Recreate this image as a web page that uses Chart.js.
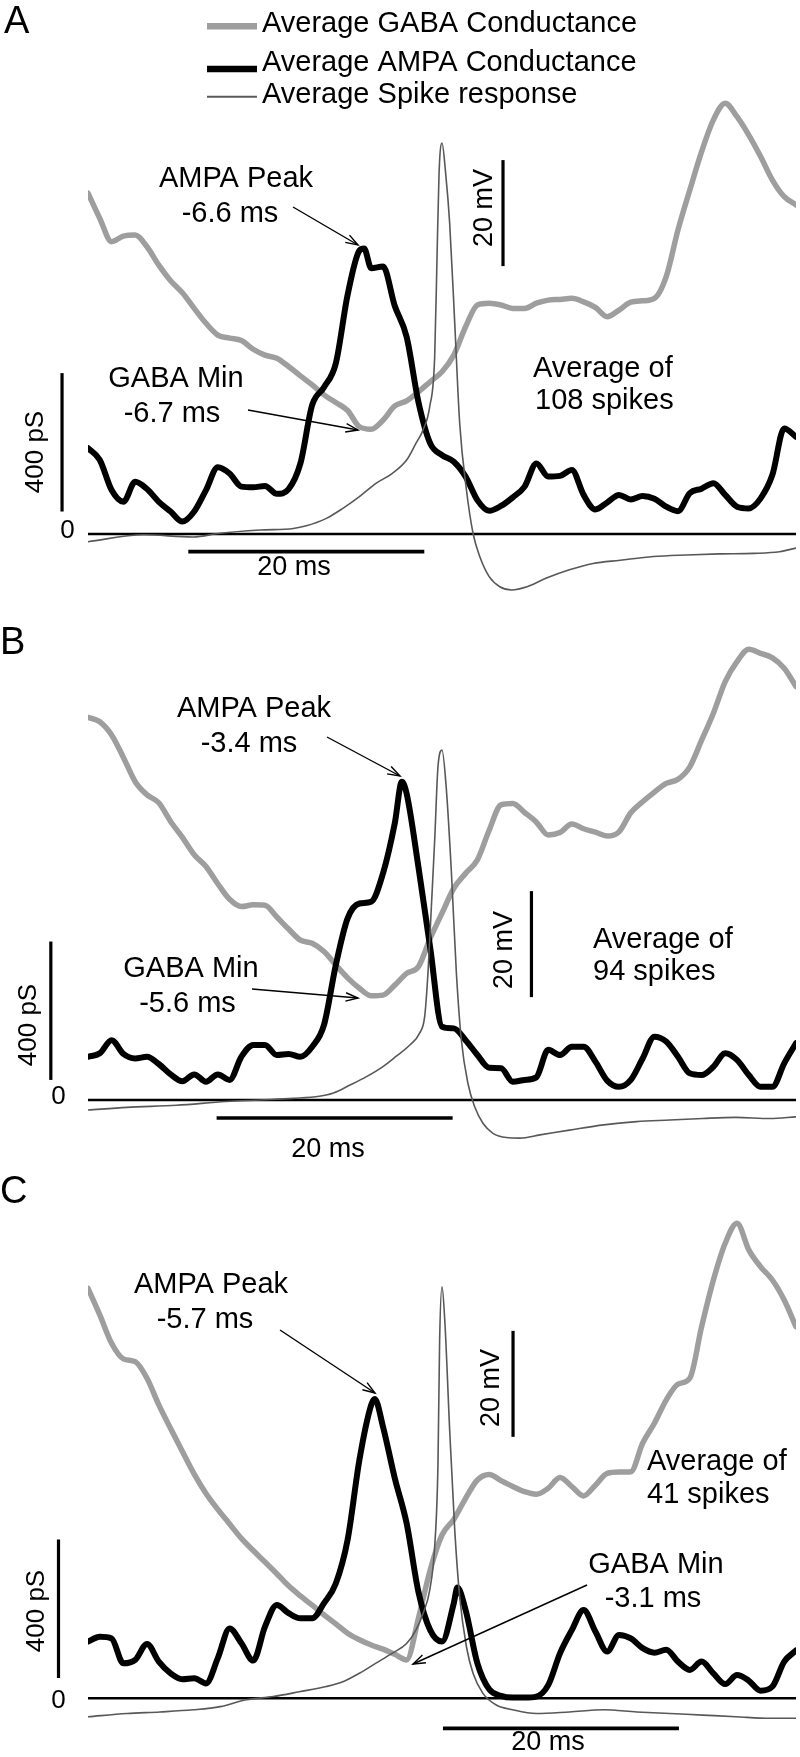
<!DOCTYPE html>
<html>
<head>
<meta charset="utf-8">
<title>Average GABA / AMPA conductance around spikes</title>
<script src="https://cdn.jsdelivr.net/npm/chart.js@4.4.1/dist/chart.umd.min.js"></script>
<style>
  html, body { margin: 0; padding: 0; background: #fff; }
  #wrap { position: relative; width: 800px; height: 1757px; }
</style>
</head>
<body>
<div id="wrap"><canvas id="traces" width="800" height="1757"></canvas></div>
<script>
// time relative to spike peak (ms), 1 ms grid for the conductance traces
const timeMs = [-30, -29, -28, -27, -26, -25, -24, -23, -22, -21, -20, -19, -18, -17, -16, -15, -14, -13, -12, -11,
  -10, -9, -8, -7, -6, -5, -4, -3, -2, -1, 0, 1, 2, 3, 4, 5, 6, 7, 8, 9, 10, 11, 12, 13, 14, 15, 16, 17, 18, 19,
  20, 21, 22, 23, 24, 25, 26, 27, 28, 29, 30];

// conductances in pS
const gabaA = [985, 912, 845, 861, 864, 830, 777, 732, 697, 652, 609, 575, 566, 559, 534, 517, 508, 484, 457, 431,
  402, 380, 357, 310, 303, 329, 370, 385, 411, 440, 469, 517, 599, 662, 667, 662, 652, 652, 667, 676,
  678, 681, 671, 655, 628, 647, 670, 674, 681, 744, 879, 994, 1105, 1197, 1245, 1206, 1153, 1091, 1023, 975, 951];
const ampaA = [248, 214, 127, 93, 151, 130, 93, 65, 36, 65, 127, 193, 175, 137, 135, 139, 116, 130, 204, 373,
  424, 493, 691, 819, 768, 773, 659, 570, 382, 262, 228, 209, 166, 98, 67, 81, 106, 137, 204, 166,
  168, 185, 113, 71, 91, 113, 100, 110, 102, 79, 66, 118, 131, 147, 113, 79, 74, 103, 171, 305, 281];
const ampaExtraA = [[-6.6, 825]];

const gabaB = [1106, 1093, 1055, 990, 920, 882, 859, 805, 759, 709, 675, 625, 580, 559, 564, 563, 529, 494, 462, 453,
  429, 390, 353, 323, 301, 303, 332, 366, 385, 467, 540, 612, 655, 694, 780, 853, 857, 831, 803, 766,
  773, 798, 784, 774, 763, 775, 830, 862, 890, 915, 927, 963, 1040, 1118, 1209, 1267, 1303, 1291, 1278, 1248, 1195];
const ampaB = [125, 135, 173, 133, 120, 125, 104, 74, 54, 74, 53, 74, 58, 125, 159, 159, 130, 133, 125, 154,
  217, 390, 525, 568, 573, 655, 800, 886, 674, 440, 212, 207, 173, 130, 93, 92, 53, 58, 66, 145,
  130, 154, 154, 111, 56, 38, 58, 120, 183, 169, 125, 77, 72, 96, 135, 116, 72, 38, 38, 106, 164];
const ampaExtraB = [[-3.4, 920]];

const gabaC = [1185, 1108, 1026, 981, 973, 925, 848, 780, 713, 648, 592, 546, 504, 462, 427, 394, 360, 325, 296, 269,
  241, 215, 188, 169, 154, 142, 127, 111, 231, 371, 472, 517, 578, 631, 647, 629, 612, 597, 590, 607,
  638, 612, 585, 616, 650, 654, 655, 737, 795, 862, 908, 925, 1074, 1209, 1315, 1373, 1296, 1247, 1209, 1151, 1074];
const ampaC = [164, 178, 173, 101, 111, 157, 106, 72, 55, 58, 43, 116, 202, 159, 109, 207, 270, 246, 231, 231,
  275, 332, 458, 689, 848, 785, 636, 506, 308, 197, 164, 275, 255, 101, 26, 7, 2, 2, 5, 38,
  130, 197, 255, 193, 135, 183, 173, 145, 132, 140, 106, 82, 106, 72, 41, 67, 51, 22, 34, 106, 138];
const ampaExtraC = [[-5.7, 865], [1.3, 320]];

// average spike waveform (mV), sampled more densely around the peak
const spikeTimeA = [-30, -25.3, -21.1, -18.8, -15.4, -12.6, -11.5, -9.8, -8.4, -7.0, -5.6, -4.2, -3.0, -2.2, -1.6, -1.04,
  -0.62, -0.42, -0.25, 0, 0.31, 0.65, 1.08, 1.5, 2.07, 2.63, 3.2, 4.0, 4.9, 5.9, 7.2, 8.8, 10.8, 12.8, 15.1,
  17.9, 20.7, 23.5, 26.4, 28.6, 30];
const spikeA = [-65, -63.7, -64.1, -63.4, -62.8, -62.5, -62.0, -60.6, -58.7, -56.5, -54.0, -52.1, -49.6, -46.4, -43.9, -39.5,
  -30.1, -11.2, 4.5, 10.2, 4.5, -4.9, -23.8, -42.7, -55.2, -63.4, -67.8, -71.6, -73.5, -74.1, -73.5, -71.9, -70.3, -69.1, -68.5,
  -67.8, -67.5, -67.3, -67.2, -66.9, -66.2];

const spikeTimeB = [-30, -26.7, -22.5, -18.3, -15.4, -12.6, -10.4, -9.2, -7.8, -6.4, -5.0, -3.9, -2.7, -1.9, -1.47, -1.19,
  -0.9, -0.62, -0.34, 0, 0.37, 0.8, 1.22, 1.64, 2.2, 2.77, 3.47, 4.32, 5.46, 6.6, 8.3, 10.8, 13.7, 16.5, 19.3,
  22.1, 24.9, 27.8, 30];
const spikeB = [-65, -64.5, -64.1, -63.4, -63.1, -62.8, -62.4, -61.8, -60.3, -58.7, -56.8, -54.9, -52.7, -50.5, -47.4, -39.2,
  -26.6, -14.1, -0.2, 2.9, -4.5, -20.3, -39.2, -51.8, -60.0, -64.4, -67.5, -69.4, -70.2, -70.3, -69.7, -68.8, -67.8, -67.2, -66.9,
  -66.6, -66.4, -66.6, -66.3];

const spikeTimeC = [-30, -26.7, -23.9, -21.1, -18.8, -16.6, -14.3, -12.1, -9.8, -8.4, -7.0, -5.6, -4.2, -3.0, -2.2, -1.6,
  -1.04, -0.62, -0.34, -0.2, 0, 0.25, 0.65, 1.08, 1.5, 2.07, 2.63, 3.47, 4.6, 6.0, 8.0, 10.8, 13.7, 16.5, 19.3,
  22.1, 24.9, 27.8, 30];
const spikeC = [-65, -64.4, -64.1, -63.7, -63.1, -61.8, -61.2, -60.3, -59.3, -58.4, -56.8, -54.9, -53.0, -51.2, -48.6, -45.5,
  -41.1, -32.9, -17.2, 6.1, 16.1, 9.2, -10.9, -29.8, -42.4, -51.8, -56.8, -60.6, -62.8, -63.7, -64.4, -64.1, -63.7, -64.1, -64.4,
  -64.7, -65.0, -65.3, -65.3];

const seriesLabels = ['Average GABA Conductance', 'Average AMPA Conductance', 'Average Spike response'];

// ---- styling / layout ----
const GABA_COLOR = '#9e9e9e';
const AMPA_COLOR = '#000000';
const SPIKE_COLOR = '#585858';
const H = 1757;
const PX_PER_PS = 0.346;
const PX_PER_MV = 5.3;
const FONT = '"Liberation Sans", Arial, Helvetica, sans-serif';

// y pixel of 0 pS and of -65 mV for each panel
function axisFromPixels(refPx, pxPerUnit, refValue) {
  return { min: refValue + (refPx - H) / pxPerUnit, max: refValue + refPx / pxPerUnit };
}

function points(times, values, extra) {
  const pts = times.map((t, i) => ({ x: t, y: values[i] }));
  (extra || []).forEach(p => pts.push({ x: p[0], y: p[1] }));
  pts.sort((a, b) => a.x - b.x);
  return pts;
}

function traceSets(gAxis, vAxis, gaba, ampa, ampaExtra, spikeT, spike) {
  const base = { pointRadius: 0, fill: false, cubicInterpolationMode: 'monotone',
    borderJoinStyle: 'round', borderCapStyle: 'round' };
  return [
    Object.assign({}, base, { label: 'zero', data: [{ x: -30, y: 0 }, { x: 30, y: 0 }], yAxisID: gAxis,
      borderColor: '#000', borderWidth: 2.5, order: 4 }),
    Object.assign({}, base, { label: seriesLabels[0], data: points(timeMs, gaba), yAxisID: gAxis,
      borderColor: GABA_COLOR, borderWidth: 5.5, order: 3 }),
    Object.assign({}, base, { label: seriesLabels[1], data: points(timeMs, ampa, ampaExtra), yAxisID: gAxis,
      borderColor: AMPA_COLOR, borderWidth: 6, order: 2 }),
    Object.assign({}, base, { label: seriesLabels[2], data: points(spikeT, spike), yAxisID: vAxis,
      borderColor: SPIKE_COLOR, borderWidth: 1.6, order: 1 })
  ];
}

const hidden = { display: false };
const scales = {
  x: { type: 'linear', min: -30, max: 30, display: false },
  gA: Object.assign({ type: 'linear' }, hidden, axisFromPixels(534, PX_PER_PS, 0)),
  vA: Object.assign({ type: 'linear' }, hidden, axisFromPixels(541.7, PX_PER_MV, -65)),
  gB: Object.assign({ type: 'linear' }, hidden, axisFromPixels(1100, PX_PER_PS, 0)),
  vB: Object.assign({ type: 'linear' }, hidden, axisFromPixels(1110, PX_PER_MV, -65)),
  gC: Object.assign({ type: 'linear' }, hidden, axisFromPixels(1698.3, PX_PER_PS, 0)),
  vC: Object.assign({ type: 'linear' }, hidden, axisFromPixels(1716.7, PX_PER_MV, -65))
};

// scale bars, in data units
const psBars = [{ axis: 'gA', t: -32.2, from: 65 }, { axis: 'gB', t: -33.15, from: 58 }, { axis: 'gC', t: -32.5, from: 59 }];
const mvBars = [{ axis: 'vA', t: 5.17, from: -13 }, { axis: 'vB', t: 7.58, from: -43.7 }, { axis: 'vC', t: 6.02, from: -12.2 }];
const msBars = [{ axis: 'gA', t: -21.5, at: -51 }, { axis: 'gB', t: -19.1, at: -52 }, { axis: 'gC', t: 0.08, at: -87 }];

const legendRows = [
  { color: GABA_COLOR, width: 6.5, lineY: 26.3, baseY: 32 },
  { color: AMPA_COLOR, width: 6.5, lineY: 69, baseY: 70.5 },
  { color: SPIKE_COLOR, width: 2, lineY: 96.7, baseY: 103 }
];

const texts = [
  { s: 'A', x: 4, y: 33, size: 38, align: 'left' },
  { s: 'B', x: 0, y: 654, size: 38, align: 'left' },
  { s: 'C', x: 0, y: 1203, size: 38, align: 'left' },
  { s: 'AMPA Peak', x: 236, y: 187 }, { s: '-6.6 ms', x: 230, y: 222 },
  { s: 'GABA Min', x: 176, y: 387 }, { s: '-6.7 ms', x: 172, y: 422 },
  { s: 'Average of', x: 533, y: 377, align: 'left' }, { s: '108 spikes', x: 535, y: 409, align: 'left' },
  { s: 'AMPA Peak', x: 254, y: 717 }, { s: '-3.4 ms', x: 249, y: 752 },
  { s: 'GABA Min', x: 191, y: 977 }, { s: '-5.6 ms', x: 187.5, y: 1012 },
  { s: 'Average of', x: 593, y: 948, align: 'left' }, { s: '94 spikes', x: 593, y: 980, align: 'left' },
  { s: 'AMPA Peak', x: 211, y: 1293 }, { s: '-5.7 ms', x: 205, y: 1328 },
  { s: 'GABA Min', x: 656, y: 1573 }, { s: '-3.1 ms', x: 653, y: 1607 },
  { s: 'Average of', x: 647, y: 1470, align: 'left' }, { s: '41 spikes', x: 647, y: 1503, align: 'left' },
  { s: '20 ms', x: 294, y: 575, size: 27 }, { s: '20 ms', x: 328, y: 1157, size: 27 }, { s: '20 ms', x: 548, y: 1750, size: 27 },
  { s: '0', x: 67.5, y: 538, size: 26 }, { s: '0', x: 58.5, y: 1104, size: 26 }, { s: '0', x: 58.5, y: 1708, size: 26 }
];
const vertTexts = [
  { s: '400 pS', x: 36, y: 452, size: 26 }, { s: '400 pS', x: 29, y: 1025, size: 26 }, { s: '400 pS', x: 37, y: 1611, size: 26 },
  { s: '20 mV', x: 485, y: 208, size: 27 }, { s: '20 mV', x: 505, y: 950, size: 27 }, { s: '20 mV', x: 492, y: 1388, size: 27 }
];
const arrows = [
  [293, 207, 358, 245], [248, 410, 358, 430],
  [327, 737, 400, 776], [252, 989, 358, 998],
  [280, 1330, 375, 1393], [587, 1585, 413, 1664]
];

function drawArrow(ctx, x1, y1, x2, y2) {
  const a = Math.atan2(y2 - y1, x2 - x1);
  const len = 13, spread = 0.33;
  ctx.beginPath();
  ctx.moveTo(x1, y1);
  ctx.lineTo(x2, y2);
  ctx.stroke();
  ctx.beginPath();
  ctx.moveTo(x2 - len * Math.cos(a - spread), y2 - len * Math.sin(a - spread));
  ctx.lineTo(x2, y2);
  ctx.lineTo(x2 - len * Math.cos(a + spread), y2 - len * Math.sin(a + spread));
  ctx.stroke();
}

const overlay = {
  id: 'overlay',
  afterDatasetsDraw(chart) {
    const ctx = chart.ctx;
    const sx = chart.scales.x;
    ctx.save();
    ctx.strokeStyle = '#000';
    ctx.lineCap = 'butt';

    // scale bars
    ctx.lineWidth = 3.2;
    psBars.forEach(b => {
      const sc = chart.scales[b.axis], x = sx.getPixelForValue(b.t);
      ctx.beginPath();
      ctx.moveTo(x, sc.getPixelForValue(b.from));
      ctx.lineTo(x, sc.getPixelForValue(b.from + 400));
      ctx.stroke();
    });
    mvBars.forEach(b => {
      const sc = chart.scales[b.axis], x = sx.getPixelForValue(b.t);
      ctx.beginPath();
      ctx.moveTo(x, sc.getPixelForValue(b.from));
      ctx.lineTo(x, sc.getPixelForValue(b.from + 20));
      ctx.stroke();
    });
    ctx.lineWidth = 3.6;
    msBars.forEach(b => {
      const y = chart.scales[b.axis].getPixelForValue(b.at);
      ctx.beginPath();
      ctx.moveTo(sx.getPixelForValue(b.t), y);
      ctx.lineTo(sx.getPixelForValue(b.t + 20), y);
      ctx.stroke();
    });

    // legend
    ctx.textAlign = 'left';
    ctx.textBaseline = 'alphabetic';
    ctx.font = '29px ' + FONT;
    ctx.fillStyle = '#000';
    legendRows.forEach((r, i) => {
      ctx.strokeStyle = r.color;
      ctx.lineWidth = r.width;
      ctx.beginPath();
      ctx.moveTo(207, r.lineY);
      ctx.lineTo(257, r.lineY);
      ctx.stroke();
      ctx.fillText(seriesLabels[i], 262, r.baseY);
    });

    // labels
    texts.forEach(t => {
      ctx.font = (t.size || 29) + 'px ' + FONT;
      ctx.textAlign = t.align || 'center';
      ctx.fillText(t.s, t.x, t.y);
    });
    ctx.textAlign = 'center';
    ctx.textBaseline = 'middle';
    vertTexts.forEach(t => {
      ctx.save();
      ctx.translate(t.x, t.y);
      ctx.rotate(-Math.PI / 2);
      ctx.font = t.size + 'px ' + FONT;
      ctx.fillText(t.s, 0, 0);
      ctx.restore();
    });

    // arrows
    ctx.strokeStyle = '#000';
    ctx.lineWidth = 1.4;
    arrows.forEach(a => drawArrow(ctx, a[0], a[1], a[2], a[3]));
    ctx.restore();
  }
};

new Chart(document.getElementById('traces'), {
  type: 'line',
  data: {
    datasets: [].concat(
      traceSets('gA', 'vA', gabaA, ampaA, ampaExtraA, spikeTimeA, spikeA),
      traceSets('gB', 'vB', gabaB, ampaB, ampaExtraB, spikeTimeB, spikeB),
      traceSets('gC', 'vC', gabaC, ampaC, ampaExtraC, spikeTimeC, spikeC)
    )
  },
  options: {
    responsive: false,
    animation: false,
    parsing: true,
    layout: { padding: { left: 88, right: 4, top: 0, bottom: 0 } },
    scales: scales,
    plugins: { legend: { display: false }, tooltip: { enabled: false } }
  },
  plugins: [overlay]
});
</script>
</body>
</html>
